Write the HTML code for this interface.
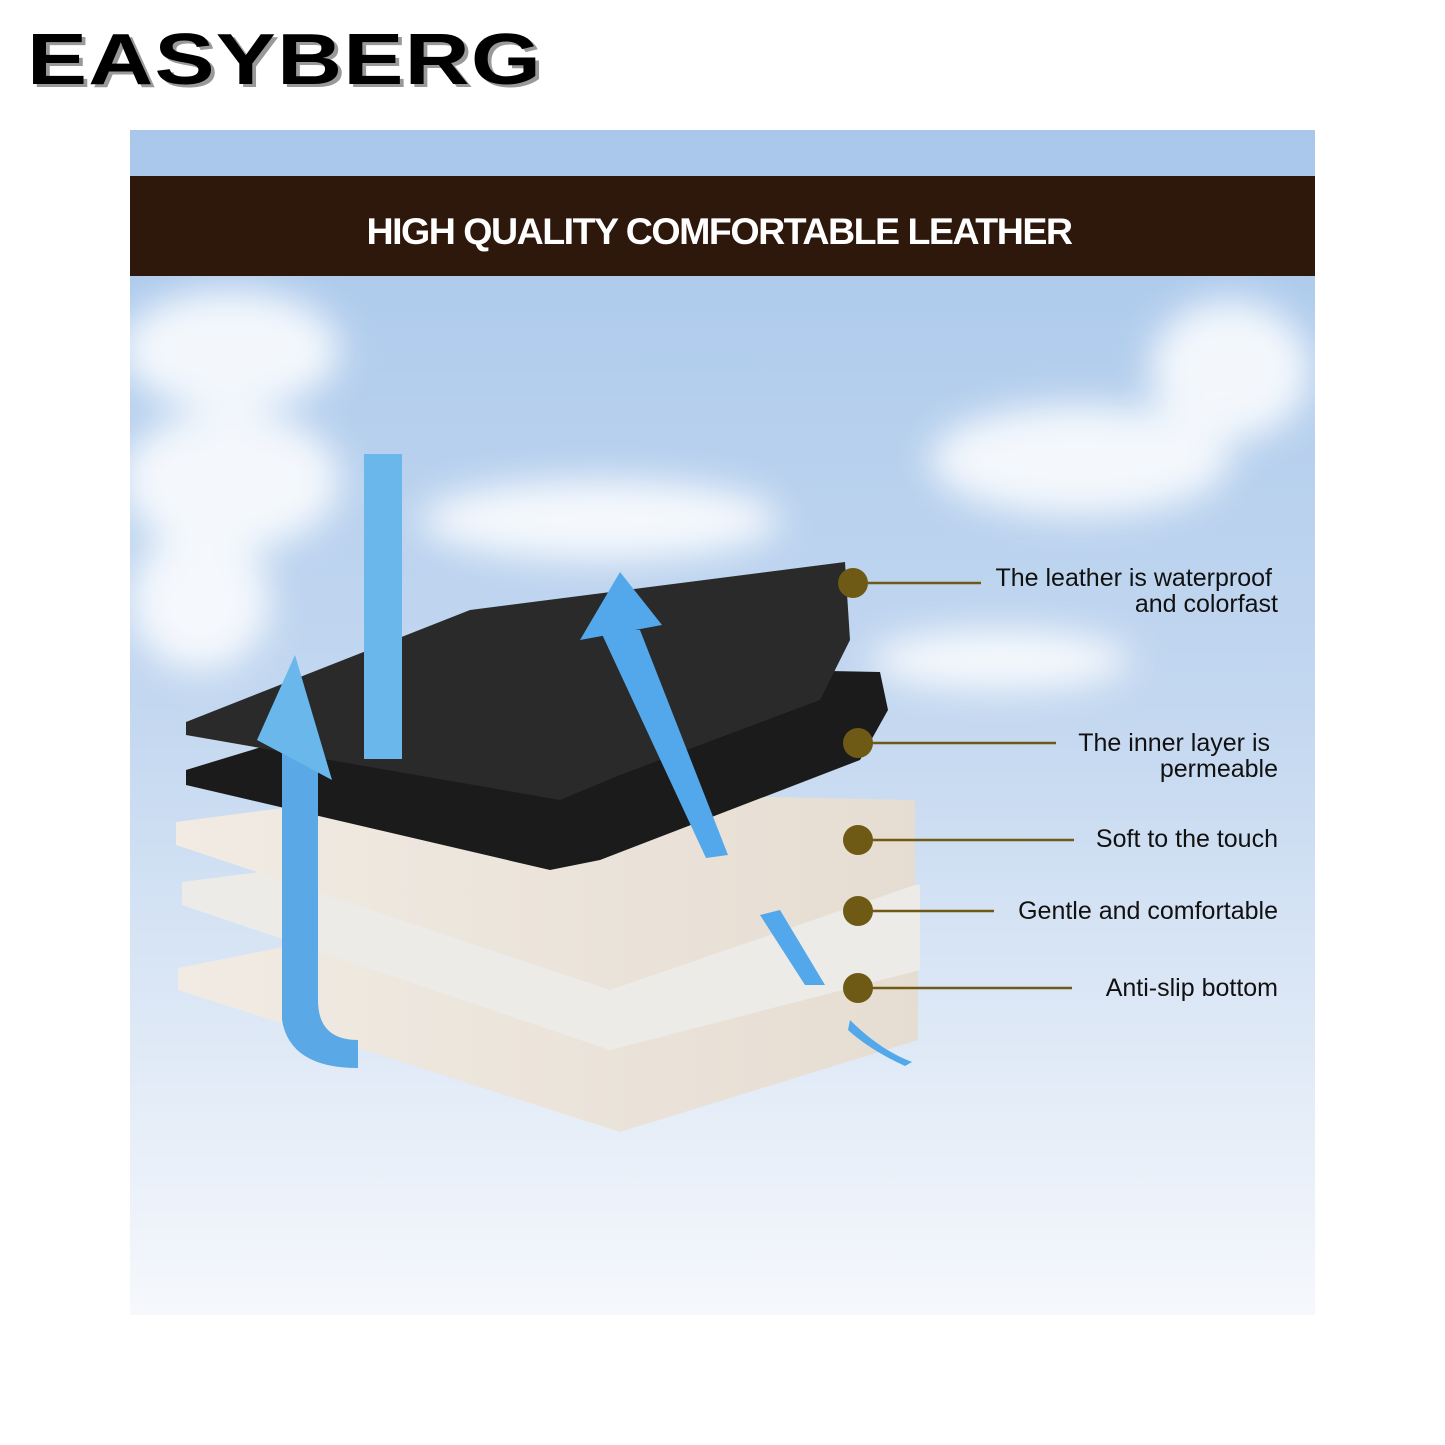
<!DOCTYPE html>
<html><head><style>
body{margin:0;width:1445px;height:1445px;background:#fff;position:relative;overflow:hidden;font-family:"Liberation Sans",sans-serif}
.logo{position:absolute;left:27px;top:24px;font-weight:bold;font-size:72px;letter-spacing:1px;color:#000;transform:scaleX(1.25);transform-origin:left top;text-shadow:3px 3px 0 #999;line-height:1}
</style></head><body>
<div class="logo">EASYBERG</div>
<svg width="1445" height="1445" style="position:absolute;left:0;top:0">
<defs>
<linearGradient id="sky" x1="0" y1="0" x2="0" y2="1">
<stop offset="0" stop-color="#a8c7eb"/><stop offset="0.5" stop-color="#c4d8f0"/><stop offset="1" stop-color="#f6f8fc"/></linearGradient>
<filter id="bl"><feGaussianBlur stdDeviation="18"/></filter>
<linearGradient id="cr" x1="0" y1="0" x2="1" y2="0"><stop offset="0" stop-color="#f1ebe3"/><stop offset="1" stop-color="#e6ddd2"/></linearGradient>
</defs>
<rect x="130" y="130" width="1185" height="1185" fill="url(#sky)"/>
<g filter="url(#bl)" fill="#fff" opacity="0.85">
<ellipse cx="230" cy="350" rx="110" ry="60"/><ellipse cx="230" cy="480" rx="110" ry="70"/><ellipse cx="200" cy="600" rx="70" ry="70"/>
<ellipse cx="600" cy="520" rx="180" ry="40"/><ellipse cx="1230" cy="370" rx="80" ry="70"/><ellipse cx="1080" cy="460" rx="150" ry="55"/>
<ellipse cx="1000" cy="660" rx="130" ry="30"/></g>
<rect x="130" y="176" width="1185" height="100" fill="#2e170b"/>
<text x="719" y="244" text-anchor="middle" font-family="Liberation Sans" font-weight="bold" font-size="37" fill="#fff" letter-spacing="-1.5" textLength="705" lengthAdjust="spacingAndGlyphs">HIGH QUALITY COMFORTABLE LEATHER</text>
<polygon points="178,968 420,920 918,955 918,1040 620,1132 178,990" fill="url(#cr)"/>
<polygon points="182,882 430,850 920,885 920,970 610,1050 182,905" fill="#ecebe8"/>
<polygon points="176,822 420,790 915,800 915,885 610,990 176,845" fill="url(#cr)"/>
<polygon points="186,770 530,665 880,672 888,710 860,760 600,860 550,870 186,785" fill="#1b1b1b"/>
<polygon points="186,722 470,610 845,562 850,640 820,700 620,775 560,800 186,735" fill="#2a2a2a"/>
<rect x="364" y="454" width="38" height="305" fill="#6ab7ec"/>
<path d="M282 740 L282 1020 Q290 1068 358 1068 L358 1040 Q318 1040 318 1000 L318 740 Z" fill="#5aa9e6"/>
<polygon points="257,740 295,655 332,780" fill="#6ab7ec"/>
<polygon points="580,640 620,572 662,625" fill="#52a8ea"/>
<polygon points="600,630 640,630 728,855 706,858" fill="#52a8ea"/>
<path d="M760 915 L780 910 L825 985 L805 985 Z" fill="#52a8ea"/>
<path d="M850 1020 Q880 1050 912 1062 L905 1066 Q870 1050 848 1030 Z" fill="#52a8ea"/>
<g fill="#6e5a14"><circle cx="853" cy="583" r="15"/><circle cx="858" cy="743" r="15"/><circle cx="858" cy="840" r="15"/><circle cx="858" cy="911" r="15"/><circle cx="858" cy="988" r="15"/></g>
<g stroke="#6e5a14" stroke-width="2.5"><line x1="853" y1="583" x2="981" y2="583"/><line x1="858" y1="743" x2="1056" y2="743"/><line x1="858" y1="840" x2="1074" y2="840"/><line x1="858" y1="911" x2="994" y2="911"/><line x1="858" y1="988" x2="1072" y2="988"/></g>
<g font-family="Liberation Sans" font-size="25" fill="#111" text-anchor="end">
<text x="1272" y="586">The leather is waterproof</text><text x="1278" y="612">and colorfast</text>
<text x="1270" y="751">The inner layer is</text><text x="1278" y="777">permeable</text>
<text x="1278" y="847">Soft to the touch</text><text x="1278" y="919">Gentle and comfortable</text><text x="1278" y="996">Anti-slip bottom</text>
</g>
</svg>
</body></html>
